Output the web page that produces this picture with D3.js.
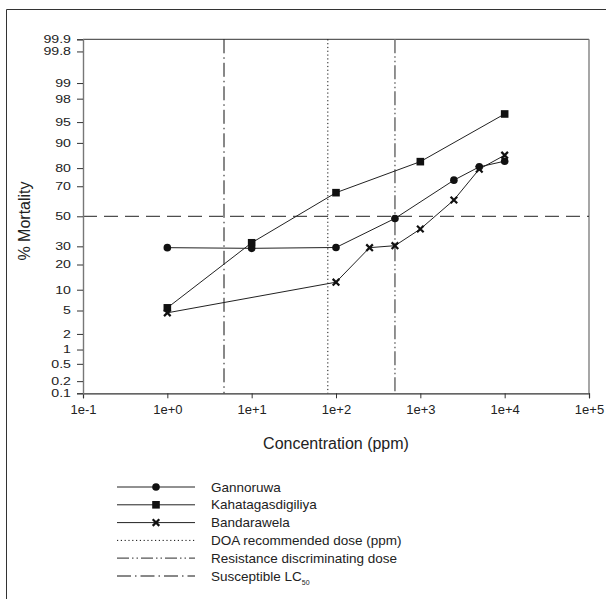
<!DOCTYPE html>
<html>
<head>
<meta charset="utf-8">
<script src="https://cdn.jsdelivr.net/npm/d3@7"></script>
<style>
  html, body { margin: 0; padding: 0; background: #fff; }
  svg { display: block; }
  text { font-family: "Liberation Sans", Arial, Helvetica, sans-serif; fill: #222; }
</style>
</head>
<body>
<svg id="chart" width="606" height="599"></svg>
<script>
// ---------------- Data ----------------
const gannoruwaDose = [1, 10, 100, 500, 2500, 5000, 10000];
const gannoruwaMortality = [29.2, 28.8, 29.3, 48.5, 73.6, 80.6, 83.2];

const kahatagasdigiliyaDose = [1, 10, 100, 1000, 10000];
const kahatagasdigiliyaMortality = [5.5, 32.2, 66, 83, 96.3];

const bandarawelaDose = [1, 100, 250, 500, 1000, 2500, 5000, 10000];
const bandarawelaMortality = [4.6, 12.5, 29.2, 30.4, 41.2, 61.2, 79.5, 85.7];

const doaRecommendedDose = 80;
const resistanceDiscriminatingDose = 500;
const susceptibleLC50 = 4.7;
const referenceMortality = 50;

const xTickValues = [1e-1, 1e0, 1e1, 1e2, 1e3, 1e4, 1e5];
const xTickLabels = ["1e-1", "1e+0", "1e+1", "1e+2", "1e+3", "1e+4", "1e+5"];
const yTickValues = [0.1, 0.2, 0.5, 1, 2, 5, 10, 20, 30, 50, 70, 80, 90, 95, 98, 99, 99.8, 99.9];

const seriesNames = ["Gannoruwa", "Kahatagasdigiliya", "Bandarawela"];
const lineNames = ["DOA recommended dose (ppm)", "Resistance discriminating dose", "Susceptible LC"];

(function () {
// ---------------- Probit helper ----------------
function probit(p) {
  const a = [-3.969683028665376e+01, 2.209460984245205e+02, -2.759285104469687e+02,
             1.383577518672690e+02, -3.066479806614716e+01, 2.506628277459239e+00];
  const b = [-5.447609879822406e+01, 1.615858368580409e+02, -1.556989798598866e+02,
             6.680131188771972e+01, -1.328068155288572e+01];
  const c = [-7.784894002430293e-03, -3.223964580411365e-01, -2.400758277161838e+00,
             -2.549732539343734e+00, 4.374664141464968e+00, 2.938163982698783e+00];
  const d = [7.784695709041462e-03, 3.224671290700398e-01, 2.445134137142996e+00,
             3.754408661907416e+00];
  const pl = 0.02425, ph = 1 - pl;
  let q, r;
  if (p < pl) {
    q = Math.sqrt(-2 * Math.log(p));
    return (((((c[0]*q+c[1])*q+c[2])*q+c[3])*q+c[4])*q+c[5]) /
           ((((d[0]*q+d[1])*q+d[2])*q+d[3])*q+1);
  } else if (p <= ph) {
    q = p - 0.5; r = q*q;
    return (((((a[0]*r+a[1])*r+a[2])*r+a[3])*r+a[4])*r+a[5])*q /
           (((((b[0]*r+b[1])*r+b[2])*r+b[3])*r+b[4])*r+1);
  } else {
    q = Math.sqrt(-2 * Math.log(1 - p));
    return -(((((c[0]*q+c[1])*q+c[2])*q+c[3])*q+c[4])*q+c[5]) /
            ((((d[0]*q+d[1])*q+d[2])*q+d[3])*q+1);
  }
}

// ---------------- Layout ----------------
const svg = d3.select("#chart");
const pLeft = 83, pRight = 589, pTop = 39.3, pBottom = 393.3;

const x = d3.scaleLog().domain([1e-1, 1e5]).range([pLeft, pRight]);
const yZ = d3.scaleLinear().domain([probit(0.001), probit(0.999)]).range([pBottom, pTop]);
const y = pct => yZ(probit(pct / 100));

// outer frame (partially visible)
svg.append("line").attr("x1", 6.5).attr("x2", 606).attr("y1", 9.5).attr("y2", 9.5)
  .attr("stroke", "#333").attr("stroke-width", 1);
svg.append("line").attr("x1", 6.5).attr("x2", 6.5).attr("y1", 9.5).attr("y2", 599)
  .attr("stroke", "#333").attr("stroke-width", 1);

// plot frame top/right
svg.append("line").attr("x1", pLeft).attr("x2", pRight).attr("y1", pTop).attr("y2", pTop)
  .attr("stroke", "#333").attr("stroke-width", 1);
svg.append("line").attr("x1", pRight).attr("x2", pRight).attr("y1", pTop).attr("y2", pBottom)
  .attr("stroke", "#777").attr("stroke-width", 1.3);

// reference horizontal 50% line
svg.append("line")
  .attr("x1", pLeft).attr("x2", pRight)
  .attr("y1", y(referenceMortality)).attr("y2", y(referenceMortality))
  .attr("stroke", "#222").attr("stroke-width", 1)
  .attr("stroke-dasharray", "14,7");

// vertical reference lines
const vStyles = [
  { dose: doaRecommendedDose, dash: "1.2,2.6", color: "#111", w: 1 },
  { dose: resistanceDiscriminatingDose, dash: "14,3,1.5,3,1.5,3", color: "#777", w: 1.6 },
  { dose: susceptibleLC50, dash: "14,4,1.5,4", color: "#111", w: 1 }
];
svg.selectAll("line.vref").data(vStyles).enter().append("line")
  .attr("class", "vref")
  .attr("x1", d => x(d.dose)).attr("x2", d => x(d.dose))
  .attr("y1", pTop).attr("y2", pBottom)
  .attr("stroke", d => d.color).attr("stroke-width", d => d.w)
  .attr("stroke-dasharray", d => d.dash);

// axes
const xAxis = d3.axisBottom(x).tickValues(xTickValues)
  .tickFormat((d, i) => xTickLabels[i]).tickSize(5).tickPadding(6);
const gx = svg.append("g").attr("transform", `translate(0,${pBottom})`).call(xAxis);
gx.select(".domain").attr("stroke", "#333").attr("stroke-width", 1.2);
gx.selectAll(".tick line").attr("stroke", "#333");
gx.selectAll(".tick text").attr("font-size", 13).attr("fill", "#222")
  .attr("font-family", "'Liberation Sans', Arial, sans-serif");

const yAxis = d3.axisLeft(yZ).tickValues(yTickValues.map(v => probit(v / 100)))
  .tickFormat((d, i) => String(yTickValues[i])).tickSize(6).tickPadding(6);
const gy = svg.append("g").attr("transform", `translate(${pLeft},0)`).call(yAxis);
gy.select(".domain").attr("stroke", "#777").attr("stroke-width", 1.4);
gy.selectAll(".tick line").attr("stroke", "#333");
gy.selectAll(".tick text").attr("font-size", 10.5).attr("fill", "#222")
  .attr("font-family", "'Liberation Sans', Arial, sans-serif")
  .attr("x", 0).attr("transform", "translate(-12,0) scale(1.35,1)");

// axis titles
svg.append("text").attr("x", 336).attr("y", 449).attr("text-anchor", "middle")
  .attr("font-size", 16).text("Concentration (ppm)");
svg.append("text").attr("transform", "translate(30,221) rotate(-90)")
  .attr("text-anchor", "middle").attr("font-size", 16).text("% Mortality");

// series
const series = [
  { name: seriesNames[0], dose: gannoruwaDose, mort: gannoruwaMortality, marker: "circle" },
  { name: seriesNames[1], dose: kahatagasdigiliyaDose, mort: kahatagasdigiliyaMortality, marker: "square" },
  { name: seriesNames[2], dose: bandarawelaDose, mort: bandarawelaMortality, marker: "cross" }
];

const line = d3.line().x(d => x(d[0])).y(d => y(d[1]));

function drawMarker(g, type, cx, cy) {
  if (type === "circle") {
    g.append("circle").attr("cx", cx).attr("cy", cy).attr("r", 3.8).attr("fill", "#111");
  } else if (type === "square") {
    g.append("rect").attr("x", cx - 3.8).attr("y", cy - 3.8).attr("width", 7.6).attr("height", 7.6)
      .attr("fill", "#111");
  } else {
    const s = 3.3;
    g.append("path").attr("d", `M${cx - s},${cy - s}L${cx + s},${cy + s}M${cx - s},${cy + s}L${cx + s},${cy - s}`)
      .attr("stroke", "#111").attr("stroke-width", 2.2).attr("fill", "none");
  }
}

series.forEach(s => {
  const pts = s.dose.map((d, i) => [d, s.mort[i]]);
  svg.append("path").datum(pts).attr("d", line)
    .attr("fill", "none").attr("stroke", "#222").attr("stroke-width", 1);
  const g = svg.append("g");
  pts.forEach(p => drawMarker(g, s.marker, x(p[0]), y(p[1])));
});

// legend
const legX1 = 117, legX2 = 195, legM = 156, legT = 211, legY0 = 487, legDy = 17.8;
const legendItems = [
  { label: seriesNames[0], type: "series", marker: "circle" },
  { label: seriesNames[1], type: "series", marker: "square" },
  { label: seriesNames[2], type: "series", marker: "cross" },
  { label: lineNames[0], type: "ref", style: vStyles[0] },
  { label: lineNames[1], type: "ref", style: { dash: "12,3,1.5,3,1.5,3", color: "#555", w: 1.3 } },
  { label: lineNames[2], type: "ref", style: vStyles[2], sub: "50" }
];
legendItems.forEach((it, i) => {
  const yy = legY0 + i * legDy;
  const g = svg.append("g");
  if (it.type === "series") {
    g.append("line").attr("x1", legX1).attr("x2", legX2).attr("y1", yy).attr("y2", yy)
      .attr("stroke", "#222").attr("stroke-width", 1);
    drawMarker(g, it.marker, legM, yy);
  } else {
    g.append("line").attr("x1", legX1).attr("x2", legX2).attr("y1", yy).attr("y2", yy)
      .attr("stroke", it.style.color).attr("stroke-width", it.style.w)
      .attr("stroke-dasharray", it.style.dash);
  }
  const t = g.append("text").attr("x", legT).attr("y", yy + 4.6).attr("font-size", 13.5).text(it.label);
  if (it.sub) {
    t.append("tspan").attr("font-size", 7).attr("dy", 4).text(it.sub);
  }
});
})();
</script>
</body>
</html>
